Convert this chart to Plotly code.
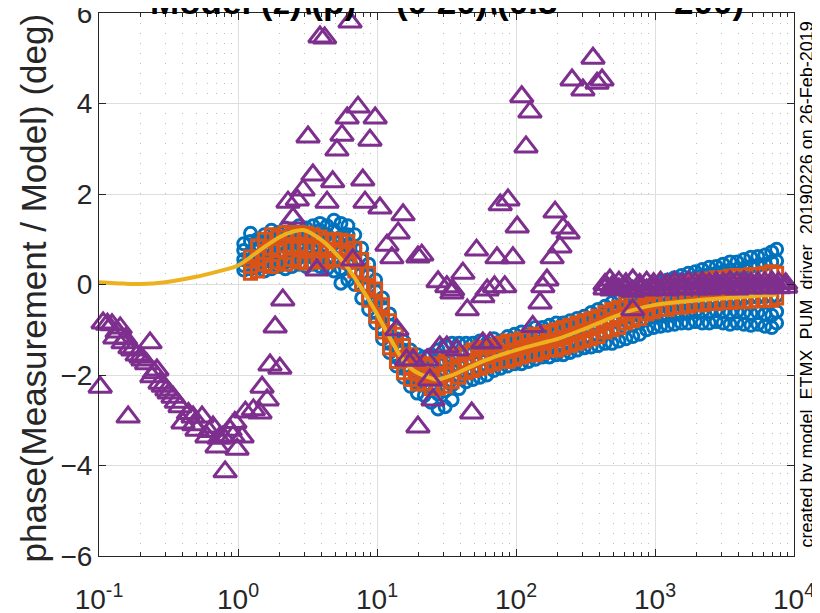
import plotly.graph_objects as go

# ---------------- data ----------------
blue_f = [1.1, 1.23, 1.38, 1.55, 1.74, 1.95, 2.19, 2.45, 2.75, 3.09,
          3.47, 3.89, 4.37, 4.9, 5.5, 6.17, 6.92, 7.76, 8.71, 9.77,
          10.96, 12.3, 13.8, 15.5, 17.4, 19.5, 21.9, 24.5, 27.5, 30.9,
          34.7, 38.9, 43.7, 49.0, 55.0, 61.7, 69.2, 77.6, 87.1, 97.7,
          109.6, 123, 138, 155, 174, 195, 219, 245, 275, 309,
          347, 389, 437, 490, 550, 617, 692, 776, 871, 977,
          1096, 1230, 1380, 1549, 1738, 1950, 2188, 2455, 2754, 3090,
          3467, 3890, 4365, 4898, 5495, 6166, 6918, 7500]

blue_hi = [0.9, 1.13, 1.0, 1.1, 1.2, 1.15, 1.25, 1.2, 1.3, 1.25,
           1.3, 1.35, 1.3, 1.42, 1.35, 1.3, 1.1, 0.8, 0.45, 0.1,
           -0.3, -0.65, -1.0, -1.25, -1.45, -1.55, -1.6, -1.55, -1.45, -1.35,
           -1.3, -1.3, -1.3, -1.3, -1.25, -1.3, -1.2, -1.25, -1.15, -1.1,
           -1.05, -1.05, -0.95, -0.95, -0.9, -0.85, -0.85, -0.8, -0.75, -0.7,
           -0.62, -0.55, -0.48, -0.4, -0.35, -0.28, -0.2, -0.15, -0.1, -0.02,
           0.05, 0.1, 0.15, 0.2, 0.25, 0.28, 0.33, 0.38, 0.4, 0.45,
           0.5, 0.5, 0.55, 0.6, 0.62, 0.65, 0.72, 0.78]
blue_q1 = [0.75, 0.95, 0.8, 0.95, 0.95, 1.05, 1.0, 1.1, 1.05, 1.15,
           1.05, 1.2, 1.1, 1.2, 1.05, 1.1, 0.8, 0.55, 0.2, -0.15,
           -0.5, -0.9, -1.2, -1.45, -1.65, -1.75, -1.8, -1.8, -1.75, -1.7,
           -1.6, -1.55, -1.5, -1.5, -1.45, -1.45, -1.4, -1.38, -1.3, -1.25,
           -1.22, -1.2, -1.12, -1.1, -1.05, -1.02, -1.0, -0.95, -0.9, -0.85,
           -0.8, -0.72, -0.66, -0.6, -0.55, -0.5, -0.42, -0.38, -0.32, -0.25,
           -0.05, 0.0, 0.05, 0.1, 0.12, 0.15, 0.2, 0.22, 0.25, 0.28,
           0.32, 0.33, 0.36, 0.4, 0.42, 0.45, 0.5, 0.52]
blue_mid = [0.55, 0.7, 0.5, 0.8, 0.65, 0.9, 0.7, 0.95, 0.8, 1.0,
            0.75, 0.95, 0.8, 0.95, 0.7, 0.85, 0.5, 0.25, -0.05, -0.4,
            -0.75, -1.1, -1.4, -1.65, -1.85, -1.95, -2.0, -2.05, -2.1, -2.0,
            -1.9, -1.8, -1.75, -1.7, -1.65, -1.6, -1.55, -1.5, -1.45, -1.4,
            -1.4, -1.35, -1.3, -1.25, -1.2, -1.2, -1.15, -1.1, -1.05, -1.0,
            -0.95, -0.9, -0.85, -0.8, -0.75, -0.7, -0.65, -0.6, -0.55, -0.5,
            -0.45, -0.42, -0.4, -0.38, -0.37, -0.36, -0.35, -0.34, -0.33, -0.32,
            -0.3, -0.3, -0.3, -0.28, -0.28, -0.27, -0.26, -0.25]
blue_q3 = [0.42, 0.5, 0.45, 0.55, 0.5, 0.65, 0.5, 0.7, 0.6, 0.7,
           0.6, 0.65, 0.55, 0.6, 0.35, 0.45, 0.25, -0.05, -0.3, -0.62,
           -0.98, -1.3, -1.6, -1.85, -2.05, -2.18, -2.22, -2.32, -2.42, -2.35,
           -2.22, -2.05, -1.95, -1.9, -1.85, -1.8, -1.72, -1.68, -1.62, -1.58,
           -1.58, -1.52, -1.48, -1.42, -1.4, -1.38, -1.35, -1.3, -1.25, -1.2,
           -1.18, -1.12, -1.08, -1.05, -1.0, -0.95, -0.9, -0.85, -0.78, -0.72,
           -0.7, -0.68, -0.66, -0.64, -0.62, -0.6, -0.6, -0.6, -0.58, -0.6,
           -0.62, -0.6, -0.62, -0.64, -0.62, -0.65, -0.68, -0.6]
blue_lo = [0.32, 0.35, 0.39, 0.3, 0.35, 0.4, 0.35, 0.4, 0.45, 0.4,
           0.45, 0.4, 0.35, 0.3, 0.03, 0.1, 0.0, -0.3, -0.55, -0.85,
           -1.2, -1.5, -1.8, -2.05, -2.25, -2.4, -2.45, -2.6, -2.75, -2.7,
           -2.55, -2.3, -2.15, -2.1, -2.05, -2.0, -1.9, -1.85, -1.8, -1.75,
           -1.75, -1.7, -1.65, -1.6, -1.6, -1.55, -1.55, -1.5, -1.45, -1.4,
           -1.38, -1.35, -1.3, -1.3, -1.25, -1.2, -1.15, -1.1, -1.0, -0.95,
           -0.92, -0.9, -0.88, -0.85, -0.85, -0.82, -0.85, -0.85, -0.82, -0.85,
           -0.88, -0.85, -0.88, -0.9, -0.88, -0.92, -0.95, -0.85]

orange_hi = [0.61, 0.85, 1.0, 1.1, 1.05, 1.15, 1.1, 1.15, 1.13, 1.1,
             1.05, 0.98, 1.0, 0.98, 0.95, 0.8, 0.55, 0.25, -0.1, -0.45,
             -0.8, -1.1, -1.35, -1.55, -1.7, -1.75, -1.8, -1.75, -1.7, -1.6,
             -1.55, -1.5, -1.45, -1.4, -1.4, -1.35, -1.3, -1.25, -1.25, -1.2,
             -1.15, -1.1, -1.1, -1.05, -1.0, -0.95, -0.9, -0.85, -0.8, -0.75,
             -0.7, -0.62, -0.55, -0.5, -0.42, -0.35, -0.3, -0.22, -0.15, -0.1,
             -0.05, 0.0, 0.02, 0.05, 0.07, 0.1, 0.12, 0.15, 0.15, 0.18,
             0.2, 0.2, 0.22, 0.22, 0.25, 0.28, 0.25]
orange_mid = [0.4, 0.6, 0.7, 0.8, 0.75, 0.85, 0.8, 0.85, 0.8, 0.8,
              0.8, 0.75, 0.78, 0.75, 0.72, 0.55, 0.25, -0.05, -0.4, -0.75,
              -1.1, -1.4, -1.65, -1.85, -1.98, -1.98, -2.05, -2.02, -1.98, -1.88,
              -1.8, -1.72, -1.68, -1.62, -1.6, -1.55, -1.5, -1.48, -1.45, -1.4,
              -1.35, -1.32, -1.3, -1.25, -1.22, -1.18, -1.12, -1.08, -1.02, -0.98,
              -0.92, -0.85, -0.78, -0.72, -0.65, -0.58, -0.52, -0.45, -0.38, -0.32,
              -0.3, -0.25, -0.24, -0.22, -0.19, -0.18, -0.15, -0.14, -0.12, -0.11,
              -0.09, -0.09, -0.08, -0.07, -0.05, -0.04, -0.03]
orange_lo = [0.25, 0.3, 0.45, 0.4, 0.5, 0.45, 0.55, 0.5, 0.47, 0.5,
             0.55, 0.5, 0.55, 0.54, 0.5, 0.3, 0.0, -0.35, -0.7, -1.05,
             -1.4, -1.7, -1.95, -2.1, -2.2, -2.2, -2.3, -2.3, -2.25, -2.15,
             -2.05, -1.95, -1.9, -1.85, -1.8, -1.75, -1.7, -1.7, -1.65, -1.6,
             -1.55, -1.55, -1.5, -1.45, -1.45, -1.4, -1.35, -1.3, -1.25, -1.2,
             -1.15, -1.05, -1.0, -0.95, -0.85, -0.8, -0.75, -0.65, -0.6, -0.55,
             -0.55, -0.5, -0.5, -0.48, -0.45, -0.45, -0.42, -0.42, -0.4, -0.4,
             -0.38, -0.38, -0.37, -0.36, -0.35, -0.35, -0.3]

model_f = [0.1, 0.15, 0.2, 0.3, 0.5, 0.7, 1.0, 1.5, 2.0, 2.5,
           3.0, 4.0, 5.0, 6.0, 7.0, 8.0, 10, 12, 15, 18,
           22, 27, 35, 50, 70, 100, 150, 200, 300, 500,
           700, 1000, 2000, 4000, 7500]
model_y = [0.05, 0.02, 0.01, 0.05, 0.17, 0.28, 0.42, 0.8, 1.05, 1.17,
           1.2, 0.98, 0.7, 0.42, 0.12, -0.15, -0.65, -1.1, -1.62, -1.88,
           -2.02, -2.1, -2.0, -1.78, -1.6, -1.45, -1.3, -1.2, -1.0, -0.72,
           -0.56, -0.45, -0.35, -0.28, -0.22]

purple_f = [0.102, 0.107, 0.115, 0.124, 0.130, 0.135, 0.142, 0.149, 0.155, 0.162,
            0.167, 0.175, 0.188, 0.2, 0.207, 0.22, 0.233, 0.240, 0.25, 0.261,
            0.275, 0.29, 0.308, 0.32, 0.341, 0.36, 0.383, 0.402, 0.44, 0.475,
            0.48, 0.507, 0.551, 0.598, 0.62, 0.661, 0.707, 0.73, 0.780, 0.808,
            0.877, 0.92, 0.95, 0.984, 1.07, 1.13, 1.29, 1.44, 1.49, 1.62,
            1.70, 1.85, 2.00, 2.10, 2.29, 2.49, 2.67, 2.94, 3.19, 3.46,
            3.7, 3.89, 4.2, 4.37, 4.8, 5.15, 5.6, 6.1, 6.4, 6.7,
            7.3, 7.9, 8.2, 8.9, 9.7, 10.5, 11.8, 12.8, 13.9, 14.2,
            15.4, 16.3, 18.2, 19.7, 19.7, 21, 22.9, 24, 25.3, 27.5,
            28.3, 31.8, 31.8, 34.6, 35, 37.7, 41.5, 44.6, 48, 52,
            57.7, 57.7, 62, 65, 70, 73, 77, 83, 87.5, 95,
            102, 110, 118, 126, 132, 149, 156, 167, 182, 191,
            207, 218, 237, 253, 303, 358, 383, 416, 474, 692]
purple_y = [-2.27, -0.85, -0.88, -0.89, -1.18, -1.05, -0.96, -1.29, -1.2, -2.93,
            -1.4, -1.45, -1.56, -1.6, -1.67, -1.75, -1.29, -2.04, -1.95, -1.89,
            -2.18, -2.25, -2.33, -2.4, -2.49, -2.6, -2.7, -3.06, -2.85, -2.93,
            -3.1, -3.22, -2.93, -3.37, -3.25, -3.15, -3.59, -3.4, -3.37, -4.14,
            -3.22, -3.35, -3.05, -3.64, -3.37, -2.82, -2.77, -2.84, -2.27, -2.55,
            -1.78, -0.94, -1.85, -0.34, 1.82, 1.47, 1.87, 2.09, 3.26, 2.42,
            0.32, 5.47, 5.45, 1.82, 2.27, 2.97, 3.3, 3.68, 5.8, 0.54,
            3.92, 2.31, 1.82, 3.19, 3.68, 1.69, 0.87, 0.59, -1.0, 1.14,
            1.54, -1.67, -1.67, -3.15, 0.61, 0.65, -1.67, -2.11, -2.55, 0.06,
            -1.38, -0.05, -1.38, -0.19, -0.12, -1.45, 0.25, -0.56, -2.84, 0.76,
            -0.27, -1.29, -0.12, -1.29, -0.05, 0.59, 1.76, -0.05, 1.87, 0.59,
            1.27, 4.15, 3.04, 3.81, -0.93, -0.41, -0.05, 0.1, 0.59, 1.6,
            0.83, 1.25, 1.14, 4.52, 4.3, 5.0, 4.45, 4.52, 0.1, -0.56]

purple_hf_f = [437, 490, 550, 617, 692, 776, 871, 977, 1096, 1230,
               1380, 1549, 1738, 1950, 2188, 2455, 2754, 3090, 3467, 3890,
               4365, 4898, 5495, 6166, 6918, 7762, 8710]
purple_hf_a = [0.0, -0.05, 0.05, 0.02, 0.1, 0.0, 0.05, 0.02, 0.05, 0.0,
               0.05, 0.02, 0.06, 0.03, 0.05, 0.02, 0.05, 0.03, 0.06, 0.04,
               0.06, 0.03, 0.05, 0.04, 0.06, 0.04, 0.02]
purple_hf_b = [-0.1, -0.12, -0.1, -0.08, -0.15, -0.1, -0.12, -0.08, -0.1, -0.12,
               -0.08, -0.1, -0.08, -0.1, -0.06, -0.1, -0.05, -0.08, -0.06, -0.1,
               -0.05, -0.08, -0.06, -0.08, -0.05, -0.07, -0.06]

x_tickvals = [0.1, 1, 10, 100, 1000, 10000]
x_ticktext = ["10<sup>-1</sup>", "10<sup>0</sup>", "10<sup>1</sup>",
              "10<sup>2</sup>", "10<sup>3</sup>", "10<sup>4</sup>"]
y_tickvals = [-6, -4, -2, 0, 2, 4, 6]

title_text = "Model (z)\\(p) = (0 20)\\(0.3" + "\u00a0" * 12 + "200)"
ylabel_text = "phase(Measurement / Model) (deg)"
side_text = "created by model_ETMX_PUM_driver_20190226 on 26-Feb-2019"

# ---------------- styling ----------------
BLUE = "#0072BD"
ORANGE = "#D95319"
YELLOW = "#EDB120"
PURPLE = "#7E2F8E"
AXC = "#262626"
FONT = "Liberation Sans, Arial, sans-serif"

minor_vals = [m * 10 ** e for e in range(-1, 4) for m in range(2, 10)]

fig = go.Figure()
fig.add_trace(go.Scatter(
    x=blue_f * 5, y=blue_hi + blue_q1 + blue_mid + blue_q3 + blue_lo, mode="markers",
    marker=dict(symbol="circle-open", size=12, color=BLUE, line=dict(width=3, color=BLUE)),
    cliponaxis=False, showlegend=False))
orange_f = blue_f[1:]
fig.add_trace(go.Scatter(
    x=orange_f * 3, y=orange_hi + orange_mid + orange_lo, mode="markers",
    marker=dict(symbol="square-open", size=12, color=ORANGE, line=dict(width=3, color=ORANGE)),
    cliponaxis=False, showlegend=False))
fig.add_trace(go.Scatter(
    x=model_f, y=model_y, mode="lines",
    line=dict(color=YELLOW, width=4, shape="spline", smoothing=0.8),
    cliponaxis=False, showlegend=False))
fig.add_trace(go.Scatter(
    x=purple_f + purple_hf_f + purple_hf_f, y=purple_y + purple_hf_a + purple_hf_b,
    mode="markers",
    marker=dict(symbol="triangle-up-open", size=20, color=PURPLE, line=dict(width=3, color=PURPLE)),
    cliponaxis=False, showlegend=False))

# the page body keeps its default 8px margin, so the figure is 8px smaller
fig.update_layout(
    width=812, height=605,
    margin=dict(l=91, r=26, t=5, b=57, pad=0, autoexpand=False),
    paper_bgcolor="white", plot_bgcolor="white",
    font=dict(family=FONT, color=AXC),
    xaxis=dict(
        type="log", range=[-1, 4], tickmode="array",
        tickvals=x_tickvals, ticktext=x_ticktext,
        ticks="inside", ticklen=7, tickwidth=1, tickcolor=AXC,
        showline=True, linecolor=AXC, linewidth=1, mirror="ticks",
        showgrid=True, gridcolor="#dedede", gridwidth=1, zeroline=False,
        tickfont=dict(family=FONT, size=28, color=AXC),
        ticklabelstandoff=18, ticklabeloverflow="allow", automargin=False,
        minor=dict(tickmode="array", tickvals=minor_vals, ticks="inside", ticklen=4,
                   tickcolor=AXC, showgrid=True, gridcolor="#bdbdbd",
                   griddash="1px,9px", gridwidth=1),
    ),
    yaxis=dict(
        range=[-6, 6], tickmode="array", tickvals=y_tickvals,
        ticks="inside", ticklen=7, tickwidth=1, tickcolor=AXC,
        showline=True, linecolor=AXC, linewidth=1, mirror="ticks",
        showgrid=True, gridcolor="#dedede", gridwidth=1, zeroline=False,
        tickfont=dict(family=FONT, size=28, color=AXC),
        ticklabeloverflow="allow", automargin=False,
    ),
    annotations=[
        dict(text=ylabel_text, xref="paper", yref="paper", x=0, y=0.5,
             xshift=-66, yshift=-4, textangle=-90, showarrow=False,
             xanchor="center", yanchor="middle",
             font=dict(family=FONT, size=35, color=AXC)),
        dict(text=side_text, xref="paper", yref="paper", x=1, y=0.5,
             xshift=13, textangle=-90, showarrow=False,
             xanchor="center", yanchor="middle",
             font=dict(family=FONT, size=18, color="black")),
        dict(text=title_text, xref="paper", yref="paper", x=0.5, y=1,
             yshift=-10, showarrow=False, xanchor="center", yanchor="bottom",
             font=dict(family=FONT, size=35, color="black", weight="bold")),
    ],
)

fig.write_html("out.html")
